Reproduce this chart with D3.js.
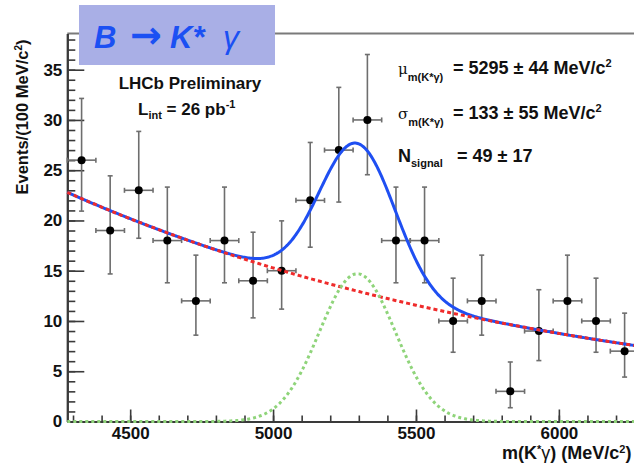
<!DOCTYPE html>
<html>
<head>
<meta charset="utf-8">
<script src="https://cdn.jsdelivr.net/npm/d3@7"></script>
<style>
  html, body { margin: 0; padding: 0; background: #fff; }
  svg { display: block; font-family: "Liberation Sans", Arial, Helvetica, sans-serif; }
</style>
</head>
<body>
<svg id="chart" width="634" height="464"></svg>
<script>
// Bin centres of the m(K*gamma) histogram (100 MeV/c^2 bins)
const massCenters = [4330, 4430, 4530, 4630, 4730, 4830, 4930, 5030, 5130, 5230,
                     5330, 5430, 5530, 5630, 5730, 5830, 5930, 6030, 6130, 6230];
// Events per bin
const counts = [26, 19, 23, 18, 12, 18, 14, 15, 22, 27, 30, 18, 18, 10, 12, 3, 9, 12, 10, 7];
// Asymmetric Poisson error bars (lower / upper)
const errLow  = [5.07, 4.32, 4.77, 4.20, 3.41, 4.20, 3.69, 3.82, 4.66, 5.17,
                 5.45, 4.20, 4.20, 3.11, 3.41, 1.63, 2.94, 3.41, 3.11, 2.58];
const errHigh = [6.14, 5.44, 5.86, 5.32, 4.55, 5.32, 4.83, 4.96, 5.76, 6.24,
                 6.51, 5.32, 5.32, 4.26, 4.55, 2.92, 4.11, 4.55, 4.26, 3.78];
const binWidth = 100;

// Fit results
const signalMean = 5295;
const signalSigma = 133;
const signalYield = 49;
// Exponential background: amplitude at the lower edge and slope per MeV
const bkgParams = [22.8, 0.000556];

// Axis ranges and ticks
const xDomain = [4280, 6280];
const yDomain = [0, 38.6];
const xMajorTicks = [4500, 5000, 5500, 6000];
const xMinorTicks = d3.range(4300, 6300, 100);
const yMajorTicks = [0, 5, 10, 15, 20, 25, 30, 35];
const yMinorTicks = d3.range(0, 39, 1);

const svg = d3.select("#chart");
const x = d3.scaleLinear().domain(xDomain).range([67.3, 638.9]);
const y = d3.scaleLinear().domain(yDomain).range([421.5, 33.5]);

const axisColor = "#3a3a3a";

// ---- frame top line
svg.append("line")
  .attr("x1", x(xDomain[0])).attr("x2", x(xDomain[1]))
  .attr("y1", y(yDomain[1])).attr("y2", y(yDomain[1]))
  .attr("stroke", "#7a7a7a").attr("stroke-width", 2);

// ---- axes (ticks drawn inward)
function styleAxis(g) {
  g.selectAll("path.domain").attr("stroke", axisColor).attr("stroke-width", 2);
  g.selectAll(".tick line").attr("stroke", axisColor).attr("stroke-width", 1.6);
  g.selectAll(".tick text")
    .attr("fill", "#111").attr("font-size", 17).attr("font-weight", "bold")
    .attr("font-family", "Liberation Sans, Arial, sans-serif");
}

svg.append("g").attr("transform", `translate(0,${y(0)})`)
  .call(d3.axisBottom(x).tickValues(xMinorTicks).tickSizeInner(-6).tickSizeOuter(0).tickFormat(""))
  .call(styleAxis);
svg.append("g").attr("transform", `translate(0,${y(0)})`)
  .call(d3.axisBottom(x).tickValues(xMajorTicks).tickSizeInner(-12).tickSizeOuter(0)
        .tickPadding(5).tickFormat(d3.format("d")))
  .call(styleAxis);

svg.append("g").attr("transform", `translate(${x(xDomain[0])},0)`)
  .call(d3.axisLeft(y).tickValues(yMinorTicks).tickSizeInner(-8).tickSizeOuter(0).tickFormat(""))
  .call(styleAxis);
svg.append("g").attr("transform", `translate(${x(xDomain[0])},0)`)
  .call(d3.axisLeft(y).tickValues(yMajorTicks).tickSizeInner(-17).tickSizeOuter(0)
        .tickPadding(5).tickFormat(d3.format("d")))
  .call(styleAxis);

// ---- data points with error bars
const pts = massCenters.map((m, i) => ({ m, n: counts[i], lo: errLow[i], hi: errHigh[i] }));
const errG = svg.append("g").attr("stroke", "#6e6e6e").attr("stroke-width", 1.6).attr("fill", "none");
const cap = 2.5;
pts.forEach(p => {
  const cx = x(p.m), cy = y(p.n);
  const x0 = x(p.m - binWidth / 2), x1 = x(p.m + binWidth / 2);
  const yt = y(p.n + p.hi), yb = y(p.n - p.lo);
  errG.append("line").attr("x1", cx).attr("x2", cx).attr("y1", yt).attr("y2", yb);
  errG.append("line").attr("x1", x0).attr("x2", x1).attr("y1", cy).attr("y2", cy);
  errG.append("line").attr("x1", cx - cap).attr("x2", cx + cap).attr("y1", yt).attr("y2", yt);
  errG.append("line").attr("x1", cx - cap).attr("x2", cx + cap).attr("y1", yb).attr("y2", yb);
  errG.append("line").attr("x1", x0).attr("x2", x0).attr("y1", cy - cap).attr("y2", cy + cap);
  errG.append("line").attr("x1", x1).attr("x2", x1).attr("y1", cy - cap).attr("y2", cy + cap);
});
svg.append("g").selectAll("circle").data(pts).join("circle")
  .attr("cx", d => x(d.m)).attr("cy", d => y(d.n)).attr("r", 4).attr("fill", "#000");

// ---- fit model curves
const bkg = m => bkgParams[0] * Math.exp(-bkgParams[1] * (m - xDomain[0]));
const sig = m => signalYield * binWidth / (signalSigma * Math.sqrt(2 * Math.PI)) *
                 Math.exp(-0.5 * Math.pow((m - signalMean) / signalSigma, 2));
const grid = d3.range(xDomain[0], xDomain[1] + 1, 4);
const line = f => d3.line().x(m => x(m)).y(m => y(f(m)))(grid);

svg.append("path").attr("d", line(m => bkg(m) + sig(m)))
  .attr("fill", "none").attr("stroke", "#1f4ff2").attr("stroke-width", 3);
svg.append("path").attr("d", line(bkg))
  .attr("fill", "none").attr("stroke", "#ef2b2b").attr("stroke-width", 3)
  .attr("stroke-dasharray", "4,3");
svg.append("path").attr("d", line(sig))
  .attr("fill", "none").attr("stroke", "#8fd47a").attr("stroke-width", 3)
  .attr("stroke-dasharray", "3,3");

// ---- title box
svg.append("rect").attr("x", 79).attr("y", 5).attr("width", 196).attr("height", 60)
  .attr("fill", "#a9afe6");
const titleG = svg.append("g").attr("fill", "#1b50f3").attr("font-weight", "bold");
titleG.append("text").attr("x", 94).attr("y", 48).attr("font-size", 31)
  .attr("font-style", "italic").text("B");
titleG.append("text").attr("x", 130).attr("y", 48).attr("font-size", 38)
  .attr("font-family", "DejaVu Sans, sans-serif").text("→");
titleG.append("text").attr("x", 170).attr("y", 48).attr("font-size", 31)
  .attr("font-style", "italic").text("K*");
titleG.append("text").attr("x", 223).attr("y", 48).attr("font-size", 32)
  .attr("font-style", "italic").attr("font-weight", "normal").text("γ");

// ---- LHCb labels
svg.append("text").attr("x", 190).attr("y", 89).attr("text-anchor", "middle")
  .attr("font-size", 17).attr("font-weight", "bold").attr("fill", "#111")
  .text("LHCb Preliminary");
const lumi = svg.append("text").attr("x", 138).attr("y", 115)
  .attr("font-size", 17).attr("font-weight", "bold").attr("fill", "#111");
lumi.append("tspan").text("L");
lumi.append("tspan").attr("font-size", 11).attr("dy", 4).text("int");
lumi.append("tspan").attr("dy", -4).text(" = 26 pb");
lumi.append("tspan").attr("font-size", 11).attr("dy", -7).text("-1");

// ---- fit result labels
function fitLabel(yb, sym, sub, value, sup) {
  const t = svg.append("text").attr("x", 398).attr("y", yb)
    .attr("font-size", 18).attr("font-weight", "bold").attr("fill", "#111");
  t.append("tspan").attr("font-weight", "normal")
    .attr("font-family", "DejaVu Serif, serif").attr("font-size", 15).text(sym);
  t.append("tspan").attr("font-size", 11).attr("dy", 7).text(sub);
  t.append("tspan").attr("x", 453).attr("dy", -7).text(value);
  if (sup) t.append("tspan").attr("font-size", 11).attr("dy", -7).text(sup);
}
fitLabel(74, "μ", "m(K*γ)", "= 5295 ± 44 MeV/c", "2");
fitLabel(119, "σ", "m(K*γ)", "= 133 ± 55 MeV/c", "2");
{
  const t = svg.append("text").attr("x", 398).attr("y", 162)
    .attr("font-size", 18).attr("font-weight", "bold").attr("fill", "#111");
  t.append("tspan").text("N");
  t.append("tspan").attr("font-size", 11).attr("dy", 5).text("signal");
  t.append("tspan").attr("x", 457).attr("dy", -5).text("= 49 ± 17");
}

// ---- axis titles
const yt = svg.append("text").attr("transform", "translate(28,117) rotate(-90)")
  .attr("text-anchor", "middle").attr("font-size", 16.5).attr("font-weight", "bold").attr("fill", "#111");
yt.append("tspan").text("Events/(100 MeV/c");
yt.append("tspan").attr("font-size", 10).attr("dy", -6).text("2");
yt.append("tspan").attr("dy", 6).text(")");

const xt = svg.append("text").attr("x", 502).attr("y", 459)
  .attr("font-size", 18).attr("font-weight", "bold").attr("fill", "#111");
xt.append("tspan").text("m(K");
xt.append("tspan").attr("font-size", 11).attr("dy", -6).text("*");
xt.append("tspan").attr("dy", 6).attr("font-weight", "normal").text("γ");
xt.append("tspan").text(") (MeV/c");
xt.append("tspan").attr("font-size", 11).attr("dy", -6).text("2");
xt.append("tspan").attr("dy", 6).text(")");
</script>
</body>
</html>
